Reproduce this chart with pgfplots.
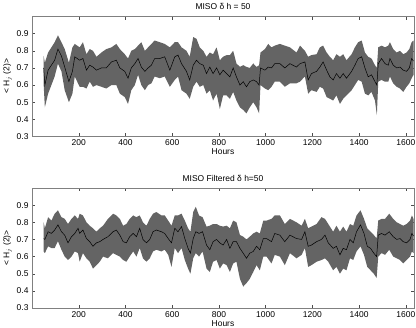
\documentclass[border=0pt]{standalone}
\usepackage{fontspec}
\setmainfont{Liberation Sans}
\usepackage{pgfplots}
\usepackage{pgfplotstable}
\pgfplotsset{compat=1.18}
\usepgfplotslibrary{fillbetween}

\definecolor{band}{RGB}{100,100,100}

% x, middle line, upper edge, lower edge of the band
\pgfplotstableread{
x mid up lo
50 0.70 0.77 0.60
55 0.60 0.73 0.47
69 0.687 0.79 0.55
83 0.716 0.82 0.60
97 0.745 0.85 0.65
111 0.81 0.89 0.725
126 0.77 0.85 0.68
140 0.705 0.81 0.57
158 0.62 0.73 0.50
173 0.68 0.82 0.55
183 0.765 0.84 0.65
204 0.745 0.82 0.59
218 0.755 0.85 0.59
233 0.687 0.78 0.58
247 0.716 0.81 0.62
261 0.705 0.80 0.59
276 0.687 0.765 0.60
297 0.70 0.79 0.59
318 0.70 0.81 0.58
340 0.735 0.82 0.60
361 0.745 0.84 0.60
376 0.70 0.81 0.55
397 0.68 0.78 0.53
411 0.64 0.755 0.49
425 0.70 0.80 0.57
440 0.725 0.81 0.60
454 0.755 0.83 0.66
468 0.705 0.85 0.60
483 0.68 0.80 0.57
497 0.70 0.82 0.60
511 0.716 0.84 0.61
525 0.755 0.86 0.65
547 0.755 0.85 0.64
568 0.765 0.84 0.65
590 0.687 0.82 0.59
611 0.765 0.85 0.63
625 0.775 0.85 0.65
640 0.725 0.82 0.57
661 0.68 0.80 0.55
675 0.63 0.765 0.52
690 0.716 0.88 0.59
704 0.745 0.87 0.62
718 0.725 0.82 0.59
733 0.716 0.80 0.60
747 0.667 0.765 0.55
761 0.705 0.79 0.57
775 0.667 0.78 0.51
790 0.70 0.82 0.55
804 0.66 0.745 0.46
818 0.687 0.765 0.54
833 0.667 0.775 0.54
847 0.648 0.775 0.52
861 0.70 0.80 0.56
875 0.648 0.726 0.51
890 0.60 0.706 0.47
904 0.62 0.716 0.455
918 0.59 0.706 0.435
932 0.62 0.70 0.47
947 0.63 0.726 0.50
961 0.62 0.706 0.47
972 0.60 0.716 0.435
978 0.70 0.79 0.60
997 0.687 0.81 0.58
1011 0.705 0.84 0.57
1025 0.70 0.82 0.59
1039 0.725 0.83 0.62
1061 0.725 0.84 0.62
1082 0.70 0.83 0.59
1104 0.725 0.82 0.61
1132 0.705 0.79 0.61
1147 0.725 0.83 0.62
1168 0.735 0.80 0.65
1182 0.63 0.765 0.55
1196 0.667 0.775 0.57
1218 0.68 0.78 0.56
1232 0.705 0.82 0.59
1246 0.735 0.83 0.58
1261 0.687 0.79 0.53
1275 0.648 0.765 0.52
1289 0.63 0.745 0.51
1303 0.667 0.78 0.54
1318 0.64 0.765 0.49
1332 0.667 0.78 0.52
1346 0.64 0.745 0.54
1368 0.68 0.78 0.57
1382 0.716 0.82 0.60
1396 0.755 0.85 0.63
1411 0.765 0.86 0.62
1425 0.70 0.79 0.55
1439 0.648 0.765 0.54
1453 0.66 0.755 0.56
1468 0.62 0.716 0.51
1476 0.60 0.70 0.425
1482 0.725 0.82 0.62
1496 0.755 0.83 0.63
1511 0.725 0.82 0.62
1525 0.716 0.83 0.62
1532 0.755 0.85 0.65
1546 0.716 0.81 0.61
1561 0.70 0.79 0.59
1575 0.705 0.80 0.58
1589 0.687 0.78 0.56
1603 0.68 0.79 0.59
1615 0.70 0.81 0.61
1625 0.755 0.85 0.64
1633 0.74 0.86 0.66
}\rawtab

\pgfplotstableread{
x mid up lo
50 0.705 0.80 0.63
55 0.70 0.765 0.62
69 0.745 0.83 0.66
83 0.735 0.81 0.65
97 0.755 0.85 0.65
111 0.785 0.87 0.69
126 0.745 0.83 0.64
140 0.725 0.82 0.60
154 0.68 0.79 0.58
169 0.716 0.82 0.60
183 0.735 0.84 0.63
197 0.765 0.82 0.62
204 0.735 0.85 0.57
218 0.755 0.84 0.62
233 0.705 0.80 0.59
247 0.687 0.78 0.57
261 0.66 0.765 0.53
276 0.68 0.745 0.55
290 0.687 0.765 0.57
304 0.70 0.78 0.60
325 0.716 0.82 0.59
347 0.745 0.85 0.62
361 0.755 0.84 0.61
376 0.725 0.82 0.60
390 0.687 0.78 0.58
404 0.68 0.79 0.57
418 0.716 0.82 0.60
433 0.735 0.84 0.63
447 0.716 0.83 0.60
461 0.765 0.84 0.65
475 0.70 0.80 0.59
490 0.68 0.78 0.57
504 0.70 0.82 0.59
518 0.745 0.85 0.63
532 0.755 0.86 0.64
554 0.745 0.84 0.63
568 0.735 0.84 0.64
583 0.705 0.81 0.61
597 0.68 0.78 0.54
611 0.765 0.84 0.65
625 0.745 0.84 0.62
640 0.775 0.85 0.65
654 0.705 0.81 0.58
668 0.648 0.765 0.53
678 0.62 0.745 0.50
690 0.705 0.86 0.59
701 0.745 0.89 0.62
715 0.735 0.84 0.60
730 0.745 0.83 0.63
747 0.667 0.775 0.53
761 0.64 0.78 0.51
775 0.687 0.79 0.57
790 0.70 0.79 0.58
804 0.68 0.78 0.53
818 0.667 0.775 0.56
833 0.70 0.78 0.55
847 0.648 0.765 0.51
861 0.687 0.81 0.56
875 0.687 0.80 0.57
890 0.648 0.726 0.47
904 0.62 0.716 0.425
918 0.59 0.70 0.445
932 0.62 0.716 0.47
947 0.63 0.735 0.51
961 0.66 0.745 0.55
975 0.64 0.735 0.52
990 0.705 0.81 0.60
1004 0.705 0.81 0.60
1025 0.687 0.82 0.56
1039 0.735 0.84 0.61
1061 0.725 0.84 0.60
1082 0.687 0.79 0.55
1104 0.725 0.82 0.62
1132 0.705 0.80 0.59
1154 0.70 0.78 0.61
1168 0.745 0.82 0.65
1182 0.66 0.765 0.54
1196 0.667 0.775 0.55
1218 0.687 0.79 0.57
1239 0.70 0.83 0.58
1254 0.725 0.82 0.59
1268 0.68 0.79 0.57
1289 0.648 0.745 0.52
1303 0.66 0.78 0.54
1318 0.61 0.745 0.50
1332 0.648 0.775 0.53
1346 0.64 0.745 0.52
1361 0.70 0.79 0.59
1375 0.68 0.78 0.58
1389 0.745 0.84 0.63
1406 0.785 0.87 0.66
1421 0.735 0.82 0.61
1435 0.66 0.765 0.54
1449 0.648 0.745 0.52
1463 0.62 0.726 0.50
1475 0.60 0.706 0.475
1482 0.725 0.81 0.60
1496 0.735 0.82 0.62
1511 0.725 0.82 0.61
1529 0.745 0.85 0.64
1546 0.716 0.82 0.60
1561 0.70 0.80 0.59
1575 0.705 0.79 0.58
1589 0.687 0.78 0.56
1603 0.68 0.79 0.58
1618 0.70 0.81 0.60
1626 0.735 0.84 0.63
1633 0.72 0.82 0.62
}\filtab

\pgfplotsset{
  hpanel/.style={
    scale only axis, width=382bp, height=120bp,
    xmin=0, xmax=1635, ymin=0.3, ymax=1,
    xtick={200,400,600,800,1000,1200,1400,1600},
    ytick={0.3,0.4,0.5,0.6,0.7,0.8,0.9},
    tick align=inside, tick pos=both, major tick length=3bp,
    axis line style={black!50}, every tick/.style={black!70},
    /pgf/number format/assume math mode=true,
    /pgf/number format/1000 sep={},
    yticklabel style={/pgf/number format/.cd, fixed, fixed zerofill, precision=1},
    tick label style={font=\fontsize{8.5}{10}\selectfont},
    label style={font=\fontsize{8.5}{10}\selectfont},
    title style={font=\fontsize{8.5}{10}\selectfont, yshift=-3bp},
    xlabel={Hours}, xlabel style={yshift=4bp},
    ylabel={< H$_j$ (2)>}, ylabel style={yshift=-2bp},
  }
}

\begin{document}
\begin{tikzpicture}
\begin{axis}[hpanel, at={(0bp,171.5bp)}, anchor=south west, title={MISO δ h = 50}]
\addplot[name path=up, draw=none] table[x=x, y=up] {\rawtab};
\addplot[name path=lo, draw=none] table[x=x, y=lo] {\rawtab};
\addplot[band, draw=none] fill between[of=up and lo];
\addplot[black, line width=0.5pt] table[x=x, y=mid] {\rawtab};
\end{axis}
\begin{axis}[hpanel, at={(0bp,0bp)}, anchor=south west, title={MISO Filtered δ h=50}]
\addplot[name path=up, draw=none] table[x=x, y=up] {\filtab};
\addplot[name path=lo, draw=none] table[x=x, y=lo] {\filtab};
\addplot[band, draw=none] fill between[of=up and lo];
\addplot[black, line width=0.5pt] table[x=x, y=mid] {\filtab};
\end{axis}
\pgfresetboundingbox
\path (-32bp,-20bp) rectangle (384bp,308bp);
\end{tikzpicture}
\end{document}
